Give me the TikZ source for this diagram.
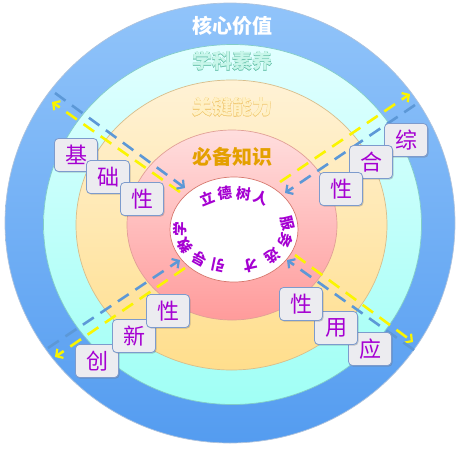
\documentclass[tikz,border=0pt]{standalone}
\usepackage{fontspec}
\newfontfamily\cjk{Noto Sans CJK SC}
\newfontfamily\cjkthick[BoldFeatures={FakeBold=1.5}]{Noto Sans CJK SC}
\usetikzlibrary{arrows.meta,shadows}
\definecolor{blueT}{RGB}{145,196,250}
\definecolor{blueB}{RGB}{84,156,240}
\definecolor{blueE}{RGB}{175,195,220}
\definecolor{cyanT}{RGB}{225,255,255}
\definecolor{cyanB}{RGB}{160,255,245}
\definecolor{cyanE}{RGB}{130,205,200}
\definecolor{orT}{RGB}{255,242,214}
\definecolor{orB}{RGB}{255,222,140}
\definecolor{orE}{RGB}{215,190,140}
\definecolor{pkT}{RGB}{255,222,222}
\definecolor{pkB}{RGB}{255,155,155}
\definecolor{pkE}{RGB}{225,160,150}
\definecolor{whE}{RGB}{215,120,110}
\definecolor{purp}{RGB}{165,0,210}
\definecolor{boxF}{RGB}{236,236,240}
\definecolor{boxE}{RGB}{125,155,205}
\definecolor{lnY}{RGB}{250,245,0}
\definecolor{lnB}{RGB}{92,152,215}
\definecolor{goldT}{RGB}{228,160,0}
\definecolor{mintF}{RGB}{200,246,234}
\definecolor{mintE}{RGB}{95,190,165}
\definecolor{ylF}{RGB}{255,240,195}
\definecolor{ylE}{RGB}{238,192,95}
\begin{document}
\begin{tikzpicture}[x=1pt,y=-1pt,
  ring/.style={line width=0.7pt},
  title/.style={inner sep=0pt, font=\cjk\bfseries\fontsize{20}{20}\selectfont},
  titlethick/.style={inner sep=0pt, font=\cjkthick\bfseries\fontsize{20}{20}\selectfont},
  charbox/.style={draw=boxE, line width=0.8pt, fill=boxF, rounded corners=4pt,
    minimum width=43pt, minimum height=33pt, inner sep=0pt, text=purp,
    font=\cjk\fontsize{22}{22}\selectfont,
    drop shadow={shadow xshift=1pt, shadow yshift=-1.2pt, opacity=0.3, fill=black!60}},
  innertxt/.style={inner sep=0pt, text=purp, font=\cjk\bfseries\fontsize{14.5}{14.5}\selectfont},
  yarr/.style={draw=lnY, line width=2.6pt, dash pattern=on 13pt off 8pt,
    -{Straight Barb[length=5pt,width=11pt,line width=2.2pt]}},
  barr/.style={draw=lnB, line width=2.6pt, dash pattern=on 13pt off 8pt,
    -{Straight Barb[length=5pt,width=11pt,line width=2.2pt]}}
]
\useasboundingbox (0,0) rectangle (464,448);
% rings
\path[ring, draw=blueE, top color=blueT, bottom color=blueB] (230,223) ellipse [x radius=225pt, y radius=220pt];
\path[ring, draw=cyanE, top color=cyanT, bottom color=cyanB] (232.5,224.5) ellipse [x radius=189pt, y radius=180pt];
\path[ring, draw=orE, top color=orT, bottom color=orB] (231.5,225) ellipse [x radius=155.5pt, y radius=145pt];
\path[ring, draw=pkE, top color=pkT, bottom color=pkB] (232,225) ellipse [x radius=105pt, y radius=95pt];
\path[ring, draw=whE, fill=white] (234,229.5) ellipse [x radius=64pt, y radius=52.5pt];
% titles
\node[title, text=white] (t1) at (232,26) {核心价值};
\node[titlethick, text=mintE] (t2o) at (232,61) {学科素养};
\node[title, text=mintF] (t2) at (232,61) {学科素养};
\node[titlethick, text=ylE] (t3o) at (232,107) {关键能力};
\node[title, text=ylF] (t3) at (232,107) {关键能力};
\node[title, text=goldT] (t4) at (232,157) {必备知识};
% inner text along ellipse
\foreach \ch/\ang [count=\i] in {立/120,德/100,树/80,人/60,服/10,务/-17,选/-45,才/-72,引/-107,导/-129,教/-155,学/-181}{
  \pgfmathsetmacro\rot{atan2(54*sin(\ang),37*cos(\ang))-90}
  \node[innertxt, rotate=\rot] (in\i) at ({234+54*cos(\ang)},{230-37*sin(\ang)}) {\ch};
}
% arrow end points
\coordinate (tlYa) at (180,192); \coordinate (tlYb) at (52,102);
\coordinate (tlBa) at (55,93);   \coordinate (tlBb) at (185,188);
\coordinate (trYa) at (280,182); \coordinate (trYb) at (410,94);
\coordinate (trBa) at (415,105); \coordinate (trBb) at (285,193);
\coordinate (brYa) at (295,255); \coordinate (brYb) at (413,342);
\coordinate (brBa) at (414,350); \coordinate (brBb) at (287,260);
\coordinate (blBa) at (48,348);  \coordinate (blBb) at (180,260);
\coordinate (blYa) at (185,268); \coordinate (blYb) at (55,357);
\draw[yarr] (tlYa) -- (tlYb);
\draw[barr] (tlBa) -- (tlBb);
\draw[yarr] (trYa) -- (trYb);
\draw[barr] (trBa) -- (trBb);
\draw[yarr] (brYa) -- (brYb);
\draw[barr] (brBa) -- (brBb);
\draw[barr] (blBa) -- (blBb);
\draw[yarr] (blYa) -- (blYb);
% boxes
\node[charbox] (b1) at (76,155) {基};
\node[charbox] (b2) at (108,177) {础};
\node[charbox] (b3) at (142,199) {性};
\node[charbox] (c1) at (406,140) {综};
\node[charbox] (c2) at (371,162) {合};
\node[charbox] (c3) at (341,189) {性};
\node[charbox] (d1) at (370,349) {应};
\node[charbox] (d2) at (336,328) {用};
\node[charbox] (d3) at (301,304) {性};
\node[charbox] (e1) at (97,361) {创};
\node[charbox] (e2) at (134,336) {新};
\node[charbox] (e3) at (168,311) {性};
\end{tikzpicture}
\end{document}
